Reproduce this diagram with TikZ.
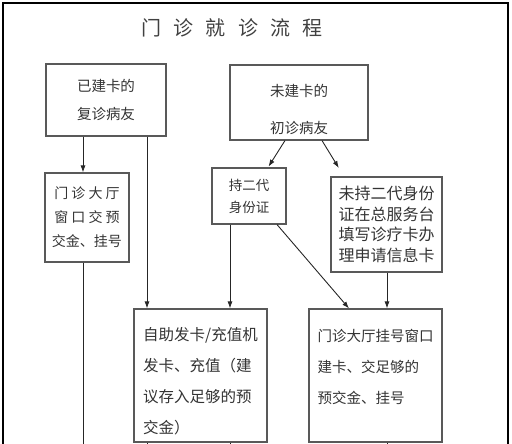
\documentclass[tikz,border=0pt]{standalone}
\usepackage{fontspec}
\setmainfont{Noto Sans CJK SC}
\usetikzlibrary{arrows.meta}

\begin{document}
\begin{tikzpicture}[
  x=1pt, y=-1pt,
  font=\fontsize{14.5}{28}\selectfont,
  box/.style={draw=black!65, line width=1.1pt, text=black!80, inner sep=0pt, align=center},
  link/.style={draw=black!85, line width=0.9pt},
  arr/.style={link, -{Latex[length=7pt,width=5pt]}},
  ttl/.style={font={\fontsize{20}{24}\selectfont\spaceskip 0.62em\relax}, text=black!75}
]
\useasboundingbox (0,0) rectangle (512,444);
\clip (0,0) rectangle (512,444);
\draw[line width=1.6pt] (3,460) -- (3,3) -- (508,3) -- (508,460);
\node[ttl] (title) at (232,28) {门 诊 就 诊 流 程};
\node[box, minimum width=120, minimum height=72] (known) at (106,100) {已建卡的\\复诊病友};
\node[box, minimum width=138, minimum height=75, font=\fontsize{14.5}{37}\selectfont] (new) at (299,102.5) {\rule{0pt}{27pt}未建卡的\\初诊病友};
\node[box, minimum width=84, minimum height=89, font=\fontsize{14}{24}\selectfont] (hall) at (87,217.5) {门 诊 大 厅\\窗 口 交 预\\交金、挂号};
\node[box, minimum width=74, minimum height=56, font=\fontsize{13.5}{22}\selectfont] (idcard) at (249,196) {持二代\\身份证};
\node[box, minimum width=111, minimum height=95, font=\fontsize{16}{20.7}\selectfont] (noid) at (386.5,224.5) {未持二代身份\\证在总服务台\\填写诊疗卡办\\理申请信息卡};
\node[box, minimum width=133, minimum height=133, align=left, font=\fontsize{15.5}{31}\selectfont] (selfsvc) at (200.5,375.5) {\rule{0pt}{25pt}自助发卡/充值机\\发卡、充值（建\\议存入足够的预\\交金）};
\node[box, minimum width=133, minimum height=133, align=left, font=\fontsize{14.5}{31}\selectfont] (counter) at (375.5,375.5) {门诊大厅挂号窗口\\建卡、交足够的\\预交金、挂号\rule[-18pt]{0pt}{0pt}};
% columns of the vertical connectors
\coordinate (colA) at (83,0);
\coordinate (colB) at (147,0);
\coordinate (colC) at (230,0);
\coordinate (colD) at (387,0);
\coordinate (bottom) at (0,460);
\draw[arr] (known.south -| colA) -- (hall.north -| colA);
\draw[arr] (known.south -| colB) -- (selfsvc.north -| colB);
\draw[arr, shorten >=1pt] ([xshift=-14pt]new.south) -- ([xshift=19pt]idcard.north);
\draw[arr, shorten >=10pt] ([xshift=23pt]new.south) -- ([xshift=-42.5pt]noid.north);
\draw[arr] (idcard.south -| colC) -- (selfsvc.north -| colC);
\draw[arr] ([xshift=28pt]idcard.south) -- ([xshift=-26.5pt]counter.north);
\draw[arr] (noid.south -| colD) -- (counter.north -| colD);
\draw[link] (hall.south -| colA) -- (bottom -| colA);
\draw[link] (selfsvc.south -| colB) -- (bottom -| colB);
\draw[link] (selfsvc.south -| colC) -- (bottom -| colC);
\draw[link] (counter.south -| colD) -- (bottom -| colD);
\end{tikzpicture}
\end{document}
